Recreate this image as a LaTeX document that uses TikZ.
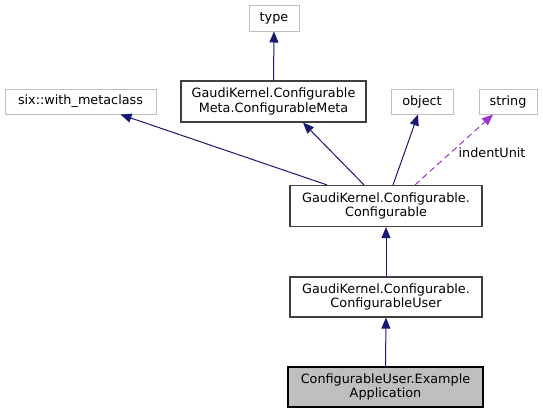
\documentclass[tikz,border=0pt]{standalone}
\usepackage{fontspec}
\setmainfont{DejaVu Sans}
\usetikzlibrary{arrows.meta}
\definecolor{edgeblue}{HTML}{191970}
\definecolor{dashpurple}{HTML}{9A32CD}
\definecolor{extgray}{HTML}{BFBFBF}
\definecolor{boxdark}{HTML}{404040}
\tikzset{
  base/.style={rectangle, inner sep=0pt, align=center,
    font=\fontsize{12.8}{14.5}\selectfont, text=black},
  extbox/.style={base, draw=extgray, fill=white, line width=1pt},
  docbox/.style={base, draw=boxdark, fill=white, line width=1.2pt},
  curbox/.style={base, draw=black, fill=extgray, line width=1.2pt},
  inh/.style={draw=edgeblue, line width=1pt,
    -{Triangle[length=11pt, width=9pt]}},
  usage/.style={draw=dashpurple, line width=1pt, dash pattern=on 6pt off 4pt,
    -{Triangle[length=11pt, width=9pt]}},
}
\begin{document}
\begin{tikzpicture}[x=1pt, y=-1pt]
\useasboundingbox (0,0) rectangle (543,413);
\node[extbox, minimum width=50pt, minimum height=26pt] (type) at (274,18) {type};
\node[extbox, minimum width=151pt, minimum height=25pt] (six) at (80.5,101.5) {six::with\_metaclass};
\node[docbox, minimum width=185pt, minimum height=41pt] (meta) at (273.5,101.5) {GaudiKernel.Configurable\\Meta.ConfigurableMeta};
\node[extbox, minimum width=62pt, minimum height=25pt] (object) at (422,101.5) {object};
\node[extbox, minimum width=58pt, minimum height=25pt] (string) at (508,101.5) {string};
\node[docbox, minimum width=192pt, minimum height=41pt] (conf) at (386,206) {GaudiKernel.Configurable.\\Configurable};
\node[docbox, minimum width=192pt, minimum height=40pt] (cu) at (386,297) {GaudiKernel.Configurable.\\ConfigurableUser};
\node[curbox, minimum width=195pt, minimum height=40pt] (ex) at (385.5,387) {ConfigurableUser.Example\\Application};

\draw[inh] (meta.north) -- (type.south);
\draw[inh] ([xshift=-59pt]conf.north) -- ([xshift=40pt]six.south);
\draw[inh] ([xshift=-22pt]conf.north) -- ([xshift=29.5pt]meta.south);
\draw[inh] ([xshift=7pt]conf.north) -- ([xshift=-4pt]object.south);
\draw[usage] ([xshift=29pt]conf.north) -- ([xshift=-15pt]string.south)
  node[pos=0.45, right=8pt, base, font=\fontsize{12.8}{14.5}\selectfont] (lbl) {indentUnit};
\draw[inh] (cu.north) -- (conf.south);
\draw[inh] (ex.north) -- (cu.south);
\end{tikzpicture}
\end{document}
